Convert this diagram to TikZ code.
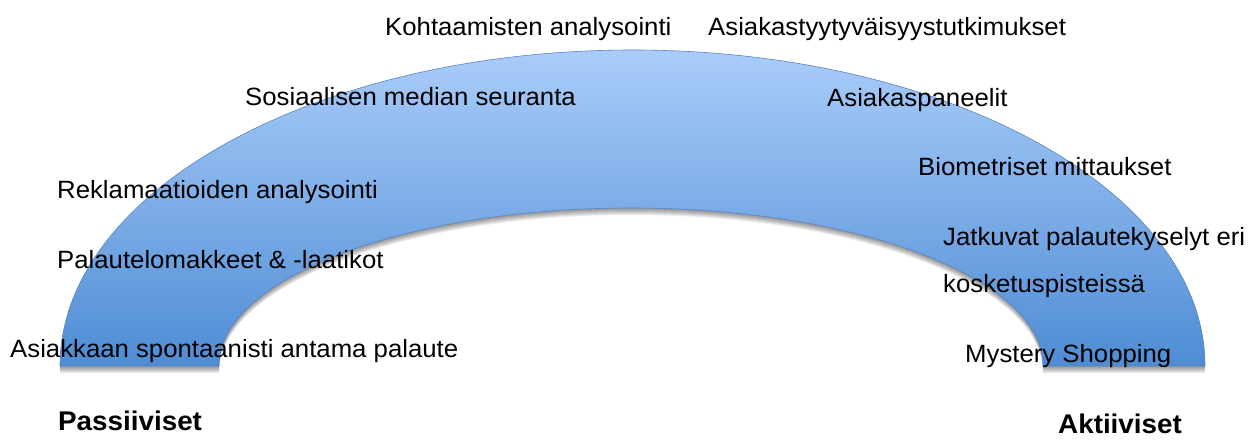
\documentclass[tikz,border=0pt]{standalone}
\usepackage{fontspec}
\setmainfont{Liberation Sans}[FakeStretch=1.03]
\begin{document}
\begin{tikzpicture}[x=1pt,y=-1pt,
  lbl/.style={anchor=base west,inner sep=0pt,font=\fontsize{25}{30}\selectfont},
  head/.style={anchor=base west,inner sep=0pt,font=\fontsize{27}{30}\selectfont\bfseries}]
\definecolor{archtop}{RGB}{170,205,250}
\definecolor{archbot}{RGB}{78,140,212}
\definecolor{archline}{RGB}{92,132,192}
\useasboundingbox (0,0) rectangle (1249,439);
\def\archpath{(60,366) arc[start angle=180,end angle=0,x radius=572.5pt,y radius=316pt] -- (1043,366) arc[start angle=0,end angle=180,x radius=412pt,y radius=158pt] -- cycle}
% soft shadow
\foreach \d in {1,2,3,4,5,6,7}{
  \fill[black,opacity=0.07,shift={(0,\d)}] \archpath;
}
\shade[top color=archtop,bottom color=archbot,draw=archline,line width=0.6pt] \archpath;
% labels
\node[lbl] (k1) at (385,35) {Kohtaamisten analysointi};
\node[lbl] (k2) at (708,35) {Asiakastyytyväisyystutkimukset};
\node[lbl] (s1) at (245,105) {Sosiaalisen median seuranta};
\node[lbl] (s2) at (827,106) {Asiakaspaneelit};
\node[lbl] (b1) at (918,175) {Biometriset mittaukset};
\node[lbl] (r1) at (57,198) {Reklamaatioiden analysointi};
\node[lbl] (j1) at (943,245) {Jatkuvat palautekyselyt eri};
\node[lbl] (p1) at (57,268) {Palautelomakkeet \& -laatikot};
\node[lbl] (j2) at (943,292) {kosketuspisteissä};
\node[lbl] (a1) at (10,357) {Asiakkaan spontaanisti antama palaute};
\node[lbl] (m1) at (965,362) {Mystery Shopping};
\node[head] (pa) at (58,430) {Passiiviset};
\node[head] (ak) at (1058,433) {Aktiiviset};
\end{tikzpicture}
\end{document}
